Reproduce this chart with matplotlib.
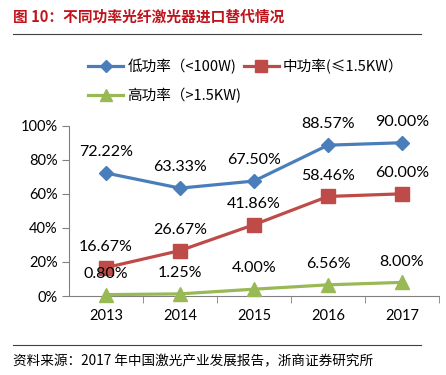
import matplotlib
matplotlib.use("Agg")
import matplotlib.pyplot as plt
from matplotlib.lines import Line2D
from matplotlib.ticker import FuncFormatter, FixedLocator

plt.rcParams['font.family'] = ['Noto Sans CJK SC', 'DejaVu Sans']

years = ["2013", "2014", "2015", "2016", "2017"]
low_power = [72.22, 63.33, 67.50, 88.57, 90.00]
mid_power = [16.67, 26.67, 41.86, 58.46, 60.00]
high_power = [0.80, 1.25, 4.00, 6.56, 8.00]
series_names = ["低功率（<100W)", "中功率(≤1.5KW）", "高功率（>1.5KW)"]
title = "图 10：不同功率光纤激光器进口替代情况"
source = "资料来源：2017 年中国激光产业发展报告，浙商证券研究所"

colors = ["#4A7EBB", "#BE4B48", "#98B954"]
markers = ["D", "s", "^"]
msizes = [7, 10, 10]

fig = plt.figure(figsize=(4.46, 3.75), dpi=100)
ax = fig.add_axes([69/446, 1-296/375, (439-69)/446, (296-125.7)/375])

x = list(range(len(years)))
handles = []
for vals, c, m, ms, name in zip([low_power, mid_power, high_power], colors, markers, msizes, series_names):
    h, = ax.plot(x, vals, color=c, lw=2.3, marker=m, markersize=ms, label=name, clip_on=False, zorder=3)
    handles.append(h)
    for xi, v in zip(x, vals):
        ax.annotate(f"{v:.2f}%", (xi, v), xytext=(0, 15), textcoords="offset points",
                    ha="center", va="center", fontsize=11.5, family=["Lato", "DejaVu Sans"],
                    color="#000000", zorder=4)

ax.set_xlim(-0.5, 4.5)
ax.set_ylim(0, 100)
ax.yaxis.set_major_locator(FixedLocator([0, 20, 40, 60, 80, 100]))
ax.yaxis.set_major_formatter(FuncFormatter(lambda v, p: f"{v:.0f}%"))
ax.set_xticks(x)
ax.set_xticklabels(years)
ax.set_xticks([0.5, 1.5, 2.5, 3.5, 4.5], minor=True)
ax.tick_params(axis="x", which="major", length=0, pad=9)
ax.tick_params(axis="x", which="minor", length=5, color="#808080", direction="out")
ax.tick_params(axis="y", length=5, color="#808080", direction="out", pad=3)
for lab in ax.get_xticklabels() + ax.get_yticklabels():
    lab.set_family(["Lato", "DejaVu Sans"])
    lab.set_fontsize(10.5)
for s in ["top", "right"]:
    ax.spines[s].set_visible(False)
for s in ["left", "bottom"]:
    ax.spines[s].set_color("#808080")
    ax.spines[s].set_linewidth(0.8)

leg_handles = [handles[0], handles[2], handles[1]]
leg = fig.legend(handles=leg_handles, loc="upper left", bbox_to_anchor=(88/446, 1-59/375), ncol=2,
                 frameon=False, fontsize=10.5, handlelength=2.4, handletextpad=0.3,
                 columnspacing=0.15, labelspacing=0.95, borderaxespad=0, borderpad=0,
                 markerscale=0.85)

fig.text(13/446, 1-17/375, title, color="#C0141C", fontsize=10.6, fontweight="bold", va="center", ha="left")
fig.text(13/446, 1-361/375, source, color="#000000", fontsize=9.8, va="center", ha="left")
fig.add_artist(Line2D([13/446, 421/446], [1-34/375, 1-34/375], color="#404040", lw=0.8))
fig.add_artist(Line2D([13/446, 421/446], [1-345/375, 1-345/375], color="#404040", lw=0.8))

fig.savefig("out.png", dpi=100)
